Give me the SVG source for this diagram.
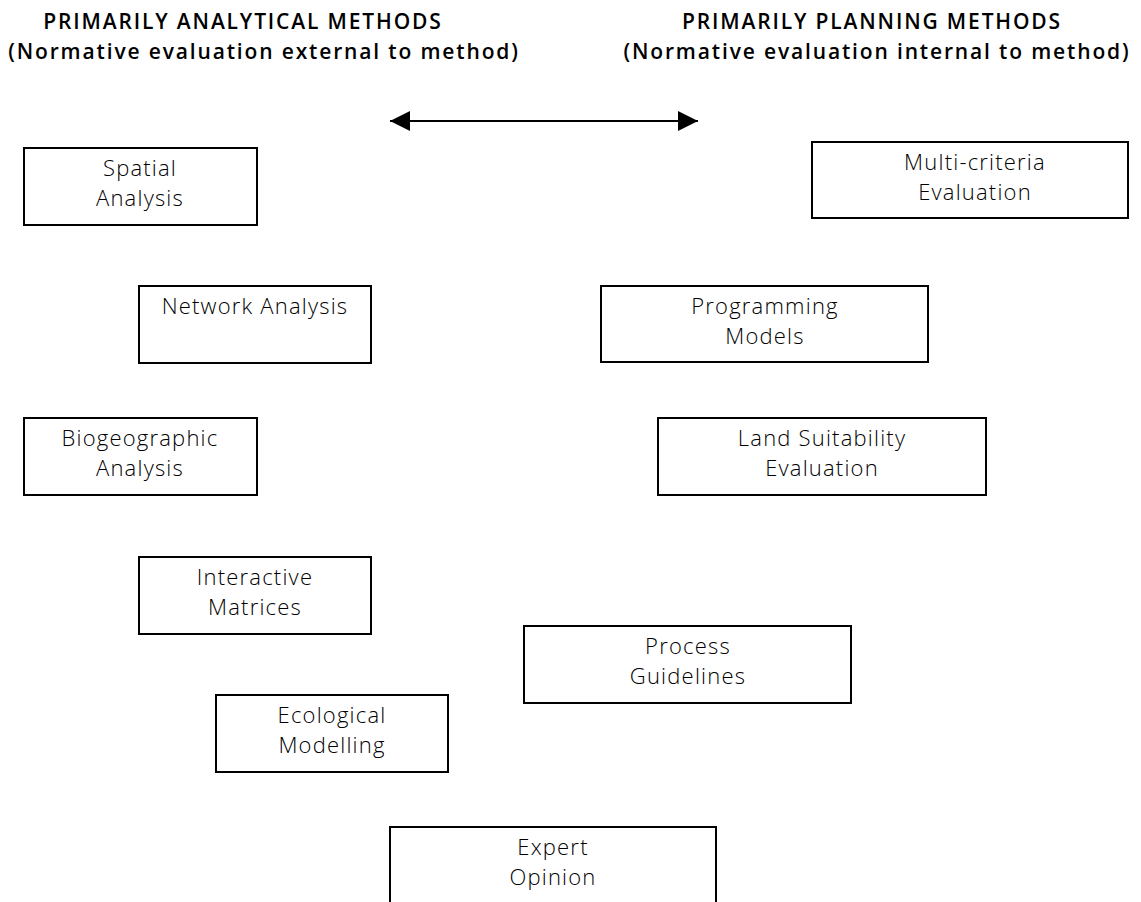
<svg xmlns="http://www.w3.org/2000/svg" width="1141" height="902" viewBox="0 0 1141 902">
<style>
.box{fill:#fff;stroke:#000;stroke-width:2}
.t{font-family:"Open Sans","Noto Sans",sans-serif;font-size:22px;font-weight:300;letter-spacing:1.2px;fill:#000;text-anchor:middle}
.h{font-family:"Open Sans","Noto Sans",sans-serif;font-size:21px;font-weight:600;letter-spacing:1.85px;fill:#000;text-anchor:middle}
</style>
<defs>
<marker id="ah" viewBox="0 0 10 10" refX="10" refY="5" markerWidth="20" markerHeight="20" markerUnits="userSpaceOnUse" orient="auto-start-reverse">
<path d="M0,0 L10,5 L0,10 Z" fill="#000"/>
</marker>
</defs>
<rect width="1141" height="902" fill="#fff"/>
<g id="headers">
<text class="h" x="243" y="29">PRIMARILY ANALYTICAL METHODS</text>
<text class="h" x="264" y="58.5">(Normative evaluation external to method)</text>
<text class="h" x="872" y="29">PRIMARILY PLANNING METHODS</text>
<text class="h" x="877" y="58.5">(Normative evaluation internal to method)</text>
</g>
<g id="connectors">
<line x1="390" y1="121" x2="698" y2="121" stroke="#000" stroke-width="2" marker-start="url(#ah)" marker-end="url(#ah)"/>
</g>
<g id="spatial"><rect class="box" x="24" y="148" width="233" height="77"/><text class="t" x="140" y="176">Spatial</text><text class="t" x="140" y="206">Analysis</text></g>
<g id="multicriteria"><rect class="box" x="812" y="142" width="316" height="76"/><text class="t" x="975" y="170">Multi-criteria</text><text class="t" x="975" y="200">Evaluation</text></g>
<g id="network"><rect class="box" x="139" y="286" width="232" height="77"/><text class="t" x="255" y="314">Network Analysis</text></g>
<g id="programming"><rect class="box" x="601" y="286" width="327" height="76"/><text class="t" x="765" y="314">Programming</text><text class="t" x="765" y="344">Models</text></g>
<g id="biogeographic"><rect class="box" x="24" y="418" width="233" height="77"/><text class="t" x="140" y="446">Biogeographic</text><text class="t" x="140" y="476">Analysis</text></g>
<g id="landsuitability"><rect class="box" x="658" y="418" width="328" height="77"/><text class="t" x="822" y="446">Land Suitability</text><text class="t" x="822" y="476">Evaluation</text></g>
<g id="interactive"><rect class="box" x="139" y="557" width="232" height="77"/><text class="t" x="255" y="585">Interactive</text><text class="t" x="255" y="615">Matrices</text></g>
<g id="process"><rect class="box" x="524" y="626" width="327" height="77"/><text class="t" x="688" y="654">Process</text><text class="t" x="688" y="684">Guidelines</text></g>
<g id="ecological"><rect class="box" x="216" y="695" width="232" height="77"/><text class="t" x="332" y="723">Ecological</text><text class="t" x="332" y="753">Modelling</text></g>
<g id="expert"><rect class="box" x="390" y="827" width="326" height="80"/><text class="t" x="553" y="855">Expert</text><text class="t" x="553" y="885">Opinion</text></g>
</svg>
